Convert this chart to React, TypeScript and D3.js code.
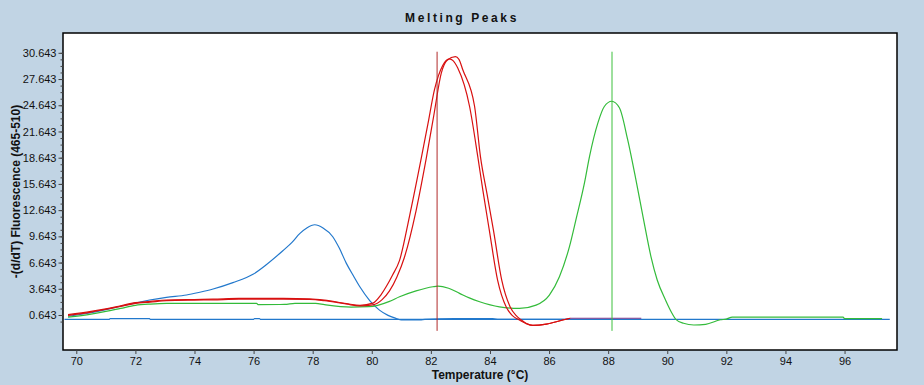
import * as d3 from 'd3'
import { useRef, useEffect } from 'react'

const xTickValues = [70, 72, 74, 76, 78, 80, 82, 84, 86, 88, 90, 92, 94, 96]
const yTickValues = [0.643, 3.643, 6.643, 9.643, 12.643, 15.643, 18.643, 21.643, 24.643, 27.643, 30.643]

// flat blue trace (no product)
const baseT = [69.6, 71.12, 71.14, 72.48, 72.5, 76.0, 76.03, 76.2, 76.23, 97.53]
const baseV = [0.15, 0.15, 0.23, 0.23, 0.15, 0.15, 0.23, 0.23, 0.15, 0.15]

// blue broad peak ~78
const bluePeakT = [69.72, 70.5, 71.0, 71.5, 72.0, 72.48, 73.05, 73.73, 74.18, 74.63, 75.3, 75.98, 76.43, 76.99, 77.3, 77.56, 77.8, 78.07, 78.35, 78.68, 78.9, 79.14, 79.4, 79.59, 79.93, 80.26, 80.55, 80.83, 81.0, 81.64, 81.8, 82.79, 84.09, 84.3, 86.7, 89.12]
const bluePeakV = [0.5, 0.9, 1.25, 1.65, 2.0, 2.36, 2.67, 2.93, 3.25, 3.62, 4.35, 5.3, 6.4, 8.0, 8.95, 9.95, 10.6, 10.97, 10.6, 9.6, 8.3, 6.55, 5.0, 3.9, 2.3, 1.2, 0.6, 0.25, 0.08, 0.08, 0.15, 0.22, 0.22, 0.15, 0.15, 0.15]

// two red replicates ~82.7
const redAT = [69.72, 70.5, 71.0, 71.5, 72.0, 72.5, 73.05, 74.0, 74.63, 75.5, 77.0, 77.9, 78.4, 79.14, 79.6, 80.04, 80.3, 80.49, 80.7, 80.94, 81.28, 81.67, 81.9, 82.12, 82.4, 82.63, 82.75, 82.91, 83.31, 83.59, 83.76, 83.98, 84.26, 84.55, 84.75, 84.95, 85.2, 85.45, 85.91, 86.46, 86.72]
const redAV = [0.68, 1.05, 1.35, 1.7, 2.05, 2.2, 2.36, 2.42, 2.45, 2.55, 2.55, 2.5, 2.35, 1.95, 1.75, 2.0, 2.9, 3.9, 5.2, 6.9, 12.0, 18.5, 22.5, 26.4, 29.2, 29.95, 29.75, 28.9, 24.5, 18.7, 14.9, 10.3, 4.6, 1.55, 0.6, 0.15, -0.3, -0.55, -0.4, 0.07, 0.27]
const redBT = [69.72, 70.5, 71.0, 71.5, 72.0, 72.5, 73.05, 74.0, 74.63, 75.5, 77.0, 77.9, 78.4, 79.14, 79.6, 80.04, 80.35, 80.6, 80.85, 81.1, 81.5, 81.84, 82.1, 82.35, 82.55, 82.83, 82.95, 83.08, 83.48, 83.68, 83.9, 84.12, 84.4, 84.68, 84.88, 85.05, 85.25, 85.45, 85.91, 86.46, 86.72]
const redBV = [0.6, 0.98, 1.3, 1.62, 1.98, 2.12, 2.28, 2.35, 2.38, 2.45, 2.45, 2.42, 2.28, 1.9, 1.68, 1.8, 2.4, 3.4, 5.0, 7.2, 12.6, 18.5, 23.5, 28.3, 29.8, 30.2, 29.9, 28.7, 24.5, 18.7, 14.5, 10.3, 4.6, 1.6, 0.6, 0.1, -0.35, -0.55, -0.4, 0.07, 0.27]

// green, primer-dimer bump + peak ~88.1
const greenT = [69.72, 70.5, 71.0, 71.5, 72.0, 72.5, 73.06, 76.1, 76.15, 77.05, 77.4, 78.1, 78.4, 79.3, 79.9, 80.2, 80.6, 80.94, 81.5, 82.07, 82.24, 82.6, 82.97, 83.3, 83.65, 84.32, 85.0, 85.56, 86.01, 86.35, 86.69, 86.92, 87.2, 87.37, 87.65, 87.87, 88.12, 88.38, 88.66, 88.94, 89.19, 89.45, 89.66, 89.94, 90.16, 90.29, 90.55, 90.9, 91.3, 91.8, 92.0, 92.2, 95.95, 96.0, 97.27]
const greenV = [0.4, 0.75, 1.05, 1.4, 1.75, 1.9, 1.98, 1.98, 1.83, 1.85, 1.98, 1.98, 1.83, 1.55, 1.6, 1.75, 2.2, 2.73, 3.4, 3.88, 3.95, 3.7, 3.12, 2.6, 2.16, 1.58, 1.4, 1.78, 2.93, 5.03, 8.47, 11.7, 15.8, 18.8, 22.6, 24.5, 25.1, 24.35, 20.7, 16.1, 11.7, 7.3, 4.65, 2.36, 0.84, 0.15, -0.3, -0.5, -0.42, 0.1, 0.18, 0.41, 0.41, 0.22, 0.22]

// red tails lying on the blue trace (drawn mixed)
const overlapT = [86.72, 89.12]
const overlapV = [0.27, 0.27]

// Tm markers
const markerT = [82.21, 88.13]
const markerColors = ['#b02a2a', '#3cc03c']
const markerSpan = [-1.17, 30.77]

const W = 924
const H = 385
const margin = { top: 33, right: 27, bottom: 35, left: 63 }

const App = () => {
  const xAxisRef = useRef(null)
  const yAxisRef = useRef(null)
  const yMinorRef = useRef(null)

  const x = d3.scaleLinear()
    .domain([69.55, 97.775])
    .range([margin.left, W - margin.right])
  const y = d3.scaleLinear()
    .domain([-3.36, 32.91])
    .range([H - margin.bottom, margin.top])

  const line = d3.line().curve(d3.curveMonotoneX)
  const path = (ts, vs) => line(ts.map((t, i) => [x(t), y(vs[i])]))

  const series = [
    { t: baseT, v: baseV, color: '#2278cc' },
    { t: bluePeakT, v: bluePeakV, color: '#2278cc' },
    { t: greenT, v: greenV, color: '#33bb3a' },
    { t: redAT, v: redAV, color: '#d81010' },
    { t: redBT, v: redBV, color: '#d81010' },
    { t: overlapT, v: overlapV, color: '#7e3a8e' },
  ]

  useEffect(() => {
    const style = (g) => {
      g.select('.domain').remove()
      g.attr('font-family', '"Liberation Sans", Arial, sans-serif').attr('font-size', 11)
      g.selectAll('line').attr('stroke', '#444')
      g.selectAll('text').attr('fill', '#111')
    }
    d3.select(xAxisRef.current)
      .call(d3.axisBottom(x).tickValues(xTickValues).tickSize(4).tickPadding(3).tickFormat(d => String(d)))
      .call(style)
    d3.select(yMinorRef.current)
      .call(d3.axisLeft(y).tickValues(d3.range(-0.107, 30.7, 0.75)).tickSize(2.5).tickFormat(() => ''))
      .call(style)
    d3.select(yAxisRef.current)
      .call(d3.axisLeft(y).tickValues(yTickValues).tickSize(4.5).tickPadding(2).tickFormat(d => d.toFixed(3)))
      .call(style)
  })

  const plotW = W - margin.left - margin.right
  const plotH = H - margin.top - margin.bottom

  return (
    <div style={{ position: 'fixed', left: 0, top: 0 }}>
      <svg width={W} height={H} style={{ display: 'block', background: '#c1d4e4' }}>
        <defs>
          <clipPath id="plot-clip">
            <rect x={margin.left} y={margin.top} width={plotW} height={plotH} />
          </clipPath>
        </defs>
        <text x={W / 2} y={22} textAnchor="middle" fontFamily='"Liberation Sans", Arial, sans-serif'
          fontWeight="bold" fontSize={12} letterSpacing={2.6} fill="#111">Melting Peaks</text>
        <rect x={margin.left} y={margin.top} width={plotW} height={plotH} fill="#fff" />
        <g clipPath="url(#plot-clip)">
          {series.map((s, i) => (
            <path key={i} d={path(s.t, s.v)} fill="none" stroke={s.color} strokeWidth={1.2} />
          ))}
          {markerT.map((t, i) => (
            <line key={'m' + i} x1={x(t)} x2={x(t)} y1={y(markerSpan[0])} y2={y(markerSpan[1])}
              stroke={markerColors[i]} strokeWidth={1} />
          ))}
        </g>
        <rect x={margin.left} y={margin.top} width={plotW} height={plotH} fill="none" stroke="#000" strokeWidth={1.5} />
        <g ref={xAxisRef} transform={`translate(0, ${H - margin.bottom})`} />
        <g ref={yMinorRef} transform={`translate(${margin.left}, 0)`} />
        <g ref={yAxisRef} transform={`translate(${margin.left}, 0)`} />
        <text x={(margin.left + W - margin.right) / 2} y={379} textAnchor="middle"
          fontFamily='"Liberation Sans", Arial, sans-serif' fontWeight="bold" fontSize={12} fill="#111">
          Temperature (°C)
        </text>
        <text transform={`translate(20, ${margin.top + plotH / 2}) rotate(-90)`} textAnchor="middle"
          fontFamily='"Liberation Sans", Arial, sans-serif' fontWeight="bold" fontSize={12} fill="#111">
          -(d/dT) Fluorescence (465-510)
        </text>
      </svg>
    </div>
  )
}

export default App
